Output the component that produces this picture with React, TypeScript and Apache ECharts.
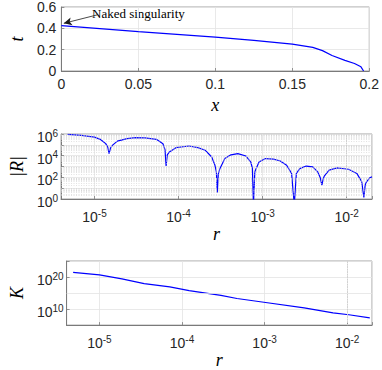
import React, { useEffect, useRef } from "react";
import * as echarts from "echarts";

// ---- Data ----
const topX = [0, 0.05, 0.1, 0.125, 0.15, 0.1633, 0.1696, 0.1758, 0.1842, 0.1904, 0.1946, 0.1963];
const topT = [0.425, 0.37, 0.318, 0.288, 0.252, 0.221, 0.191, 0.145, 0.1, 0.07, 0.039, 0];

const rR = [
  4.8e-6, 7.0e-6, 1.0e-5, 1.19e-5, 1.36e-5, 1.44e-5, 1.49e-5, 1.55e-5, 1.63e-5, 1.87e-5,
  2.44e-5, 3.05e-5, 4.0e-5, 5.44e-5, 6.52e-5, 6.9e-5, 7.11e-5, 7.35e-5, 7.78e-5, 9.31e-5,
  1.33e-4, 1.7e-4, 2.07e-4, 2.48e-4, 2.71e-4, 2.82e-4, 2.89e-4, 2.97e-4, 3.1e-4, 3.55e-4,
  4.2e-4, 5.07e-4, 6.34e-4, 7.24e-4, 7.56e-4, 7.78e-4, 8.07e-4, 9.06e-4, 1.08e-3, 1.35e-3,
  1.62e-3, 1.93e-3, 2.21e-3, 2.38e-3, 2.52e-3, 2.77e-3, 3.3e-3, 3.95e-3, 4.52e-3, 4.85e-3,
  5.07e-3, 5.25e-3, 5.41e-3, 6.18e-3, 7.71e-3, 1.05e-2, 1.32e-2, 1.51e-2, 1.6e-2, 1.66e-2,
  1.72e-2, 1.88e-2, 2.0e-2,
];
const absR = [
  9.1e5, 7.4e5, 5.2e5, 3.0e5, 1.3e5, 6.0e4, 1.55e4, 5.0e4, 8.9e4, 2.2e5,
  3.7e5, 4.6e5, 4.4e5, 3.2e5, 1.26e5, 3.5e4, 1.1e3, 1.2e4, 2.2e4, 5.5e4,
  7.8e4, 5.5e4, 3.2e4, 7.6e3, 1.3e3, 3.0e2, 4, 2.0e2, 6.3e2, 5.4e3,
  1.2e4, 1.55e4, 9.3e3, 2.6e3, 6.3e2, 0.3, 3.2e2, 2.6e3, 5.4e3, 4.8e3,
  3.2e3, 1.3e3, 2.3e2, 0.3, 2.3e2, 6.3e2, 1.1e3, 9.1e2, 3.2e2, 90,
  19, 70, 1.3e2, 4.6e2, 7.4e2, 5.6e2, 2.3e2, 39, 1.4, 20,
  39, 91, 1.1e2,
];

const rK = [4.8e-6, 1.0e-5, 1.87e-5, 3.48e-5, 7.11e-5, 1.22e-4, 2.96e-4, 4.63e-4, 1.03e-3, 3.02e-3, 6.75e-3, 1.05e-2, 1.88e-2];
const kVals = [3.0e21, 4.8e20, 2.5e19, 8.7e17, 8.7e16, 5.8e15, 2e14, 2e13, 1.15e12, 2.4e10, 6.6e8, 1.7e8, 1.7e7];

const annotationText = "Naked singularity";

const SANS = "'Liberation Sans', Arial, Helvetica, sans-serif";
const SERIF = "'Liberation Serif', 'Times New Roman', serif";
const TXT = "#262626";
const AXIS = "#7a7a7a";
const BORDER = "#a3a3a3";
const GRID = "#e3e3e3";
const MINOR = "#cfcfcf";
const BLUE = "#0000ff";

const nameStyle = { fontFamily: SERIF, fontStyle: "italic" as const, fontSize: 18, color: "#000" };

const supRich = {
  b: { fontFamily: SANS, fontSize: 14, color: TXT, padding: [6, 0, 0, 0], verticalAlign: "middle" },
  s: { fontFamily: SANS, fontSize: 10, color: TXT, padding: [0, 0, 2, 0], verticalAlign: "middle" },
};

function powLabel(allowed: (e: number) => boolean) {
  return (v: number) => {
    const e = Math.log10(v);
    const r = Math.round(e);
    if (Math.abs(e - r) > 1e-6 || !allowed(r)) return "";
    return "{b|10}{s|" + r + "}";
  };
}

function minorValues(lo: number, hi: number) {
  const out: number[] = [];
  for (let n = Math.floor(Math.log10(lo)); n <= Math.ceil(Math.log10(hi)); n++) {
    for (let k = 2; k <= 9; k++) {
      const v = k * Math.pow(10, n);
      if (v > lo * 1.0001 && v < hi * 0.9999) out.push(v);
    }
  }
  return out;
}

export default function App() {
  const ref = useRef<HTMLDivElement>(null);
  useEffect(() => {
    const chart = echarts.init(ref.current!, null, { renderer: "svg" });

    const commonAxis = {
      axisLine: { show: true, lineStyle: { color: AXIS, width: 1 } },
      axisTick: { show: true, inside: true, length: 3, lineStyle: { color: AXIS, width: 0.8 } },
      splitLine: { show: true, lineStyle: { color: GRID, width: 0.8 } },
    };
    const gridBase = { show: true, borderColor: BORDER, borderWidth: 1, backgroundColor: "transparent" };

    const xMinorR = minorValues(4e-6, 0.02);
    const yMinorR = minorValues(1, 1e6);

    const option: any = {
      animation: false,
      grid: [
        { ...gridBase, left: 52, top: 5, width: 320, height: 66 },
        { ...gridBase, left: 52, top: 134, width: 320, height: 65 },
        { ...gridBase, left: 52, top: 261, width: 320, height: 67 },
      ],
      xAxis: [
        {
          ...commonAxis,
          gridIndex: 0,
          type: "value",
          min: 0,
          max: 0.2,
          interval: 0.05,
          name: "x",
          nameLocation: "middle",
          nameGap: 25,
          nameTextStyle: nameStyle,
          axisLabel: { fontFamily: SANS, fontSize: 14, color: TXT, margin: 6 },
        },
        {
          ...commonAxis,
          gridIndex: 1,
          type: "log",
          logBase: 10,
          min: 4e-6,
          max: 0.02,
          name: "r",
          nameLocation: "middle",
          nameGap: 26,
          nameTextStyle: nameStyle,
          axisLabel: { formatter: powLabel(() => true), rich: supRich, margin: 5 },
        },
        {
          ...commonAxis,
          gridIndex: 2,
          type: "log",
          logBase: 10,
          min: 4e-6,
          max: 0.02,
          name: "r",
          nameLocation: "middle",
          nameGap: 15,
          nameTextStyle: nameStyle,
          axisLabel: { formatter: powLabel(() => true), rich: supRich, margin: 5 },
        },
      ],
      yAxis: [
        {
          ...commonAxis,
          gridIndex: 0,
          type: "value",
          min: 0,
          max: 0.6,
          interval: 0.2,
          name: "t",
          nameLocation: "middle",
          nameRotate: 90,
          nameGap: 34,
          nameTextStyle: nameStyle,
          axisLabel: { fontFamily: SANS, fontSize: 14, color: TXT, margin: 5 },
        },
        {
          ...commonAxis,
          gridIndex: 1,
          type: "log",
          logBase: 10,
          min: 1,
          max: 1e6,
          name: "|R|",
          nameLocation: "middle",
          nameRotate: 90,
          nameGap: 33,
          nameTextStyle: nameStyle,
          axisLabel: { formatter: powLabel((e) => e % 2 === 0), rich: supRich, margin: 3 },
        },
        {
          ...commonAxis,
          gridIndex: 2,
          type: "log",
          logBase: 10,
          min: 1e5,
          max: 1e25,
          name: "K",
          nameLocation: "middle",
          nameRotate: 90,
          nameGap: 34,
          nameTextStyle: nameStyle,
          axisLabel: { formatter: powLabel((e) => e === 10 || e === 20), rich: supRich, margin: 3 },
        },
      ],
      series: [
        {
          type: "line",
          xAxisIndex: 1,
          yAxisIndex: 1,
          data: [],
          silent: true,
          z: 1,
          markLine: {
            silent: true,
            symbol: ["none", "none"],
            label: { show: false },
            lineStyle: { color: MINOR, width: 0.6, type: [1, 1.5] },
            data: [...xMinorR.map((v) => ({ xAxis: v })), ...yMinorR.map((v) => ({ yAxis: v }))],
          },
        },
        {
          type: "line",
          xAxisIndex: 2,
          yAxisIndex: 2,
          data: [],
          silent: true,
          z: 1,
          markLine: {
            silent: true,
            symbol: ["none", "none"],
            label: { show: false },
            lineStyle: { color: MINOR, width: 0.6, type: [1, 1.5] },
            data: [
              ...xMinorR.map((v) => ({ xAxis: v })),
              { yAxis: 1e15, lineStyle: { color: GRID, width: 0.8, type: "solid" } },
            ],
          },
        },
        {
          type: "line",
          xAxisIndex: 0,
          yAxisIndex: 0,
          data: topX.map((x, i) => [x, topT[i]]),
          showSymbol: false,
          z: 3,
          lineStyle: { color: BLUE, width: 1.2 },
          markLine: {
            silent: true,
            symbol: ["none", "arrow"],
            symbolSize: [6, 8],
            label: { show: false },
            lineStyle: { color: "#1a1a1a", width: 0.8, type: "solid" },
            data: [[{ coord: [0.0235, 0.527] }, { coord: [0.0016, 0.447] }]],
          },
        },
        {
          type: "line",
          xAxisIndex: 1,
          yAxisIndex: 1,
          data: rR.map((r, i) => [r, absR[i]]),
          showSymbol: false,
          z: 3,
          lineStyle: { color: BLUE, width: 1.2 },
        },
        {
          type: "line",
          xAxisIndex: 2,
          yAxisIndex: 2,
          data: rK.map((r, i) => [r, kVals[i]]),
          showSymbol: false,
          z: 3,
          lineStyle: { color: BLUE, width: 1.2 },
        },
      ],
      graphic: [
        {
          type: "text",
          x: 92,
          y: 13,
          style: {
            text: annotationText,
            font: "13px " + SERIF,
            fill: "#000",
            verticalAlign: "middle",
            align: "left",
          },
        },
      ],
    };

    chart.setOption(option);
    return () => chart.dispose();
  }, []);

  return (
    <div
      ref={ref}
      style={{ position: "fixed", left: 0, top: 0, width: 382, height: 370, background: "#fff" }}
    />
  );
}
